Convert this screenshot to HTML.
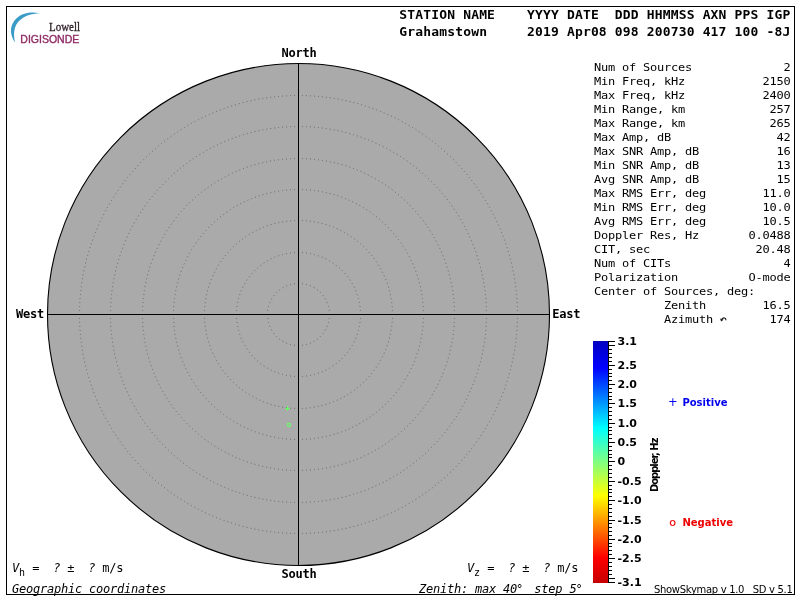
<!DOCTYPE html>
<html><head><meta charset="utf-8"><title>Skymap</title>
<style>
html,body{margin:0;padding:0;background:#fff;}
body{width:800px;height:600px;position:relative;overflow:hidden;}
#frame{position:absolute;left:6px;top:6px;width:787px;height:587px;border:1px solid #000;box-sizing:content-box;}
svg{position:absolute;left:0;top:0;}
text{white-space:pre;fill:#000;}
.hb{font:bold 13px "DejaVu Sans Mono", "Liberation Mono", monospace;letter-spacing:0.17px;}
.cb{font:bold 12px "DejaVu Sans Mono", "Liberation Mono", monospace;letter-spacing:-0.22px;}
.m{font:12px "DejaVu Sans Mono", "Liberation Mono", monospace;letter-spacing:-0.22px;}
.it{font-style:italic;}
.sb{font-size:10px;}
.cl{font:bold 11px "DejaVu Sans", "Liberation Sans", sans-serif;}
.lg{font:bold 10px "DejaVu Sans", "Liberation Sans", sans-serif;}
.lgs{font:10px "DejaVu Sans", "Liberation Sans", sans-serif;}
.ft{font:10px "DejaVu Sans", "Liberation Sans", sans-serif;letter-spacing:-0.31px;}
.lw{font:11px "Liberation Serif", serif;fill:#2a1a22;stroke:#2a1a22;stroke-width:0.25px;}
.dg{font:10.5px "Liberation Sans", sans-serif;fill:#8e2a63;stroke:#8e2a63;stroke-width:0.35px;}
.dop{font:bold 10px "DejaVu Sans", "Liberation Sans", sans-serif;letter-spacing:-1.0px;}
</style></head><body>
<div id="frame"></div>
<svg width="800" height="600" viewBox="0 0 800 600">
<circle cx="298.5" cy="314.5" r="251.0" fill="#aaaaaa" stroke="#000" stroke-width="1.1"/>
<circle cx="298.5" cy="314.5" r="31" fill="none" stroke="#666666" stroke-width="1" pathLength="192" stroke-dasharray="1 3" stroke-dashoffset="0.5"/>
<circle cx="298.5" cy="314.5" r="62" fill="none" stroke="#666666" stroke-width="1" pathLength="384" stroke-dasharray="1 3" stroke-dashoffset="0.5"/>
<circle cx="298.5" cy="314.5" r="94" fill="none" stroke="#666666" stroke-width="1" pathLength="592" stroke-dasharray="1 3" stroke-dashoffset="0.5"/>
<circle cx="298.5" cy="314.5" r="125" fill="none" stroke="#666666" stroke-width="1" pathLength="784" stroke-dasharray="1 3" stroke-dashoffset="0.5"/>
<circle cx="298.5" cy="314.5" r="156" fill="none" stroke="#666666" stroke-width="1" pathLength="976" stroke-dasharray="1 3" stroke-dashoffset="0.5"/>
<circle cx="298.5" cy="314.5" r="188" fill="none" stroke="#666666" stroke-width="1" pathLength="1184" stroke-dasharray="1 3" stroke-dashoffset="0.5"/>
<circle cx="298.5" cy="314.5" r="219" fill="none" stroke="#666666" stroke-width="1" pathLength="1376" stroke-dasharray="1 3" stroke-dashoffset="0.5"/>
<line x1="298.5" y1="63.5" x2="298.5" y2="565.5" stroke="#000" stroke-width="1"/>
<line x1="47.5" y1="314.5" x2="549.5" y2="314.5" stroke="#000" stroke-width="1"/>
<path d="M285 408.5H290M287.5 406V411" stroke="#66ff66" stroke-width="1" fill="none"/>
<circle cx="288.9" cy="425" r="1.6" fill="none" stroke="#66ff66" stroke-width="1.1"/>
<defs><linearGradient id="jet" x1="0" y1="0" x2="0" y2="1">
<stop offset="0" stop-color="#0000c0"/>
<stop offset="0.11" stop-color="#0000ff"/>
<stop offset="0.36" stop-color="#00ffff"/>
<stop offset="0.5" stop-color="#80ff80"/>
<stop offset="0.64" stop-color="#ffff00"/>
<stop offset="0.895" stop-color="#ff0000"/>
<stop offset="1" stop-color="#c60000"/>
</linearGradient></defs>
<rect x="593" y="341.0" width="15" height="242.0" fill="url(#jet)"/>
<line x1="608.5" y1="341.0" x2="608.5" y2="583.0" stroke="#000"/>
<path d="M608 341.5H615M608 345.5H615M608 349.5H612M608 353.5H612M608 357.5H612M608 361.5H612M608 365.5H615M608 369.5H612M608 373.5H612M608 376.5H612M608 380.5H612M608 384.5H615M608 388.5H612M608 392.5H612M608 396.5H612M608 399.5H612M608 403.5H615M608 407.5H612M608 411.5H612M608 415.5H612M608 419.5H612M608 423.5H615M608 427.5H612M608 430.5H612M608 434.5H612M608 438.5H612M608 442.5H615M608 446.5H612M608 450.5H612M608 454.5H612M608 457.5H612M608 461.5H615M608 465.5H612M608 469.5H612M608 473.5H612M608 477.5H612M608 481.5H615M608 485.5H612M608 489.5H612M608 492.5H612M608 496.5H612M608 500.5H615M608 504.5H612M608 508.5H612M608 512.5H612M608 516.5H612M608 520.5H615M608 523.5H612M608 527.5H612M608 531.5H612M608 535.5H612M608 539.5H615M608 543.5H612M608 546.5H612M608 550.5H612M608 554.5H612M608 558.5H615M608 562.5H612M608 566.5H612M608 570.5H612M608 574.5H612M608 578.5H615M608 582.5H615" stroke="#000" stroke-width="1" fill="none"/>
<path d="M726 320.2 C726 317.6, 723.2 317, 721.6 319.6" fill="none" stroke="#111" stroke-width="1.1"/><path d="M720.2 318.6 L723.6 319.8 L721 321.4 Z" fill="#111"/>
<path d="M39.5 13.2 C31 11.5, 21 12.5, 14.5 20.5 C9 27.5, 10.5 36, 15 42.5 C13 33, 14.1 25.8, 19.5 20.5 C24.5 15.7, 31 13.8, 39.5 13.2 Z" fill="#3a9bc7"/>
<text transform="translate(399.3 19) scale(1 0.95)" class="hb">STATION NAME    YYYY DATE  DDD HHMMSS AXN PPS IGP</text>
<text transform="translate(399.3 36) scale(1 0.95)" class="hb">Grahamstown     2019 Apr08 098 200730 417 100 -8J</text>
<text x="281.5" y="57" class="cb">North</text>
<text x="281.4" y="578" class="cb">South</text>
<text x="16" y="318" class="cb">West</text>
<text x="552.2" y="318" class="cb">East</text>
<text transform="translate(594 71) scale(1 0.93)" class="m">Num of Sources</text>
<text transform="translate(790.6 71) scale(1 0.93)" class="m" text-anchor="end">2</text>
<text transform="translate(594 85) scale(1 0.93)" class="m">Min Freq, kHz</text>
<text transform="translate(790.6 85) scale(1 0.93)" class="m" text-anchor="end">2150</text>
<text transform="translate(594 99) scale(1 0.93)" class="m">Max Freq, kHz</text>
<text transform="translate(790.6 99) scale(1 0.93)" class="m" text-anchor="end">2400</text>
<text transform="translate(594 113) scale(1 0.93)" class="m">Min Range, km</text>
<text transform="translate(790.6 113) scale(1 0.93)" class="m" text-anchor="end">257</text>
<text transform="translate(594 127) scale(1 0.93)" class="m">Max Range, km</text>
<text transform="translate(790.6 127) scale(1 0.93)" class="m" text-anchor="end">265</text>
<text transform="translate(594 141) scale(1 0.93)" class="m">Max Amp, dB</text>
<text transform="translate(790.6 141) scale(1 0.93)" class="m" text-anchor="end">42</text>
<text transform="translate(594 155) scale(1 0.93)" class="m">Max SNR Amp, dB</text>
<text transform="translate(790.6 155) scale(1 0.93)" class="m" text-anchor="end">16</text>
<text transform="translate(594 169) scale(1 0.93)" class="m">Min SNR Amp, dB</text>
<text transform="translate(790.6 169) scale(1 0.93)" class="m" text-anchor="end">13</text>
<text transform="translate(594 183) scale(1 0.93)" class="m">Avg SNR Amp, dB</text>
<text transform="translate(790.6 183) scale(1 0.93)" class="m" text-anchor="end">15</text>
<text transform="translate(594 197) scale(1 0.93)" class="m">Max RMS Err, deg</text>
<text transform="translate(790.6 197) scale(1 0.93)" class="m" text-anchor="end">11.0</text>
<text transform="translate(594 211) scale(1 0.93)" class="m">Min RMS Err, deg</text>
<text transform="translate(790.6 211) scale(1 0.93)" class="m" text-anchor="end">10.0</text>
<text transform="translate(594 225) scale(1 0.93)" class="m">Avg RMS Err, deg</text>
<text transform="translate(790.6 225) scale(1 0.93)" class="m" text-anchor="end">10.5</text>
<text transform="translate(594 239) scale(1 0.93)" class="m">Doppler Res, Hz</text>
<text transform="translate(790.6 239) scale(1 0.93)" class="m" text-anchor="end">0.0488</text>
<text transform="translate(594 253) scale(1 0.93)" class="m">CIT, sec</text>
<text transform="translate(790.6 253) scale(1 0.93)" class="m" text-anchor="end">20.48</text>
<text transform="translate(594 267) scale(1 0.93)" class="m">Num of CITs</text>
<text transform="translate(790.6 267) scale(1 0.93)" class="m" text-anchor="end">4</text>
<text transform="translate(594 281) scale(1 0.93)" class="m">Polarization</text>
<text transform="translate(790.6 281) scale(1 0.93)" class="m" text-anchor="end">O-mode</text>
<text transform="translate(594 295) scale(1 0.93)" class="m">Center of Sources, deg:</text>
<text transform="translate(594 309) scale(1 0.93)" class="m">          Zenith</text>
<text transform="translate(790.6 309) scale(1 0.93)" class="m" text-anchor="end">16.5</text>
<text transform="translate(594 323) scale(1 0.93)" class="m">          Azimuth</text>
<text transform="translate(790.6 323) scale(1 0.93)" class="m" text-anchor="end">174</text>
<text x="617.5" y="344.9" class="cl">3.1</text>
<text x="617.5" y="368.9" class="cl">2.5</text>
<text x="617.5" y="387.9" class="cl">2.0</text>
<text x="617.5" y="406.9" class="cl">1.5</text>
<text x="617.5" y="426.9" class="cl">1.0</text>
<text x="617.5" y="445.9" class="cl">0.5</text>
<text x="617.5" y="464.9" class="cl">0</text>
<text x="617.5" y="484.9" class="cl">-0.5</text>
<text x="617.5" y="503.9" class="cl">-1.0</text>
<text x="617.5" y="523.9" class="cl">-1.5</text>
<text x="617.5" y="542.9" class="cl">-2.0</text>
<text x="617.5" y="561.9" class="cl">-2.5</text>
<text x="617.5" y="585.9" class="cl">-3.1</text>
<text x="668.0" y="405.9" class="lgs" style="fill:#0000ee;font-size:11.5px">+</text>
<text x="682.4" y="406" class="lg" style="fill:#0000ee">Positive</text>
<text transform="translate(669.2 525.7) scale(1.06 1)" class="lgs" style="fill:#ee0000;font-size:10.5px;stroke:#ee0000;stroke-width:0.12px">o</text>
<text x="682.4" y="526" class="lg" style="fill:#ee0000">Negative</text>
<text class="dop" text-anchor="middle" transform="translate(658,465.3) rotate(-90)">Doppler, Hz</text>
<text x="12" y="572" class="m"><tspan class="it">V</tspan><tspan class="sb" dy="3.7">h</tspan><tspan dy="-3.7" dx="0.4"> =  </tspan><tspan class="it">?</tspan> ±  <tspan class="it">?</tspan> m/s</text>
<text x="467" y="572" class="m"><tspan class="it">V</tspan><tspan class="sb" dy="3.7">z</tspan><tspan dy="-3.7" dx="0.4"> =  </tspan><tspan class="it">?</tspan> ±  <tspan class="it">?</tspan> m/s</text>
<text x="12" y="593" class="m it">Geographic coordinates</text>
<text x="419" y="593" class="m it">Zenith: max 40<tspan dx="-1.2">°</tspan><tspan dx="-2.55">  step 5</tspan><tspan dx="-1">°</tspan></text>
<text x="654" y="593" class="ft">ShowSkymap v 1.0   SD v 5.1</text>
<text transform="translate(49 30.5) scale(1 1.12)" class="lw">Lowell</text>
<text x="20.3" y="42.5" class="dg">DIGISONDE</text>
</svg>
</body></html>
